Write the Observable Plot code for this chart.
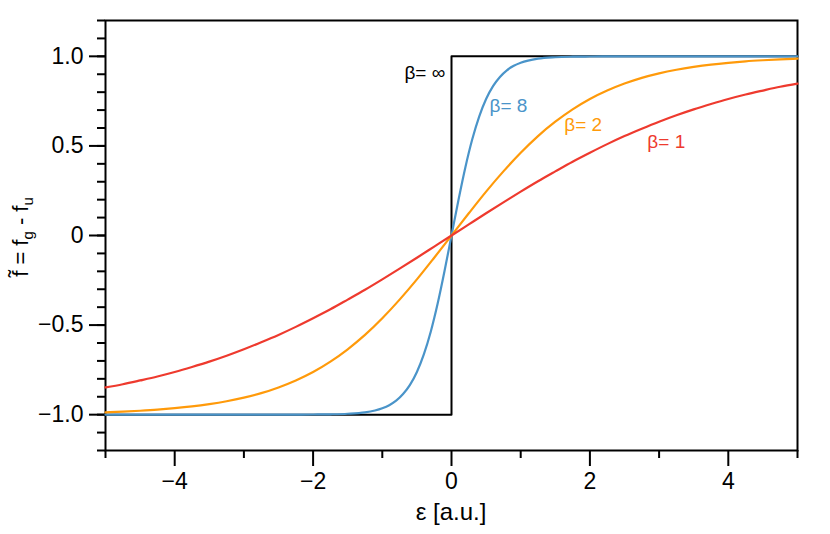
<!DOCTYPE html>
<html>
<head>
<meta charset="utf-8">
<script src="https://cdn.jsdelivr.net/npm/d3@7"></script>
<script src="https://cdn.jsdelivr.net/npm/@observablehq/plot@0.6"></script>
<style>
  html, body { margin: 0; padding: 0; background: #fff; }
  #chart svg { display: block; }
  #chart svg text { font-family: "Liberation Sans", Arial, Helvetica, sans-serif !important; }
  #chart svg [aria-label$="tick label"] { font-size: 23px !important; }
  #chart svg .axis-title { font-size: 24px; }
  #chart svg .curve-label { font-size: 19px !important; }
</style>
</head>
<body>
<div id="chart"></div>
<script>
// ---- data ----
const xGrid = [-5,-4.75,-4.5,-4.25,-4,-3.75,-3.5,-3.25,-3,-2.75,-2.5,-2.25,-2,-1.75,-1.5,-1.25,-1,-0.75,-0.5,-0.25,0,
               0.25,0.5,0.75,1,1.25,1.5,1.75,2,2.25,2.5,2.75,3,3.25,3.5,3.75,4,4.25,4.5,4.75,5];
const beta1 = [-0.848,-0.830,-0.809,-0.787,-0.762,-0.734,-0.704,-0.671,-0.635,-0.596,-0.555,-0.510,-0.462,-0.412,-0.358,-0.303,-0.245,-0.185,-0.124,-0.062,0,
               0.062,0.124,0.185,0.245,0.303,0.358,0.412,0.462,0.510,0.555,0.596,0.635,0.671,0.704,0.734,0.762,0.787,0.809,0.830,0.848];
const beta2 = [-0.987,-0.983,-0.978,-0.972,-0.964,-0.954,-0.941,-0.925,-0.905,-0.880,-0.848,-0.809,-0.762,-0.704,-0.635,-0.555,-0.462,-0.358,-0.245,-0.124,0,
               0.124,0.245,0.358,0.462,0.555,0.635,0.704,0.762,0.809,0.848,0.880,0.905,0.925,0.941,0.954,0.964,0.972,0.978,0.983,0.987];
const x8 = [-5,-4,-3,-2.5,-2,-1.75,-1.5,-1.25,-1,-0.9,-0.8,-0.7,-0.6,-0.5,-0.4,-0.3,-0.2,-0.1,0,
            0.1,0.2,0.3,0.4,0.5,0.6,0.7,0.8,0.9,1,1.25,1.5,1.75,2,2.5,3,4,5];
const beta8 = [-1,-1,-1,-1,-0.999,-0.998,-0.995,-0.987,-0.964,-0.947,-0.922,-0.885,-0.834,-0.762,-0.664,-0.537,-0.380,-0.197,0,
               0.197,0.380,0.537,0.664,0.762,0.834,0.885,0.922,0.947,0.964,0.987,0.995,0.998,0.999,1,1,1,1];
const xStep = [-5,0,0,5];
const betaInf = [-1,-1,1,1];

const labelText = ["β= ∞","β= 8","β= 2","β= 1"];
const labelX = [-0.09,0.55,1.63,2.83];
const labelY = [0.905,0.725,0.615,0.52];
const labelAnchor = ["end","start","start","start"];
const colors = ["#000000","#4a94c9","#ff9a0a","#ee3a2e"];

const yMajor = [-1,-0.5,0,0.5,1];
const yMinor = d3.range(-12,13).map(d => d/10);
const xMajor = [-4,-2,0,2,4];
const xMinor = [-5,-3,-1,1,3,5];

// ---- build tables ----
const toRows = (xs, ys) => xs.map((x,i) => ({x, y: ys[i]}));
const labels = labelText.map((t,i) => ({t, x: labelX[i], y: labelY[i], a: labelAnchor[i], c: colors[i]}));
const fmtY = d => d === 0 ? "0" : d3.format(".1f")(d);
const none = () => "";

const chart = Plot.plot({
  width: 830,
  height: 534,
  marginLeft: 105,
  marginRight: 33,
  marginTop: 20,
  marginBottom: 84,
  style: {fontSize: "23px", color: "#000", background: "#fff"},
  x: {domain: [-5,5], label: null},
  y: {domain: [-1.2,1.2], label: null},
  marks: [
    Plot.axisY({ticks: yMinor, tickSize: 8, tickFormat: none, strokeWidth: 2, stroke: "#000"}),
    Plot.axisY({ticks: yMajor, tickSize: 16, tickPadding: 6, tickFormat: fmtY, strokeWidth: 2, stroke: "#000", fill: "#000"}),
    Plot.axisX({ticks: xMinor, tickSize: 8, tickFormat: none, strokeWidth: 2, stroke: "#000"}),
    Plot.axisX({ticks: xMajor, tickSize: 16, tickPadding: 6, tickFormat: d => d3.format("d")(d), strokeWidth: 2, stroke: "#000", fill: "#000"}),
    Plot.frame({stroke: "#000", strokeWidth: 2}),
    Plot.line(toRows(xStep, betaInf), {x: "x", y: "y", stroke: colors[0], strokeWidth: 2}),
    Plot.line(toRows(x8, beta8), {x: "x", y: "y", stroke: colors[1], strokeWidth: 2.2, curve: "monotone-x"}),
    Plot.line(toRows(xGrid, beta2), {x: "x", y: "y", stroke: colors[2], strokeWidth: 2.2, curve: "monotone-x"}),
    Plot.line(toRows(xGrid, beta1), {x: "x", y: "y", stroke: colors[3], strokeWidth: 2.2, curve: "monotone-x"}),
    Plot.text(labels.filter(d => d.a === "end"), {x: "x", y: "y", text: "t", fill: "c", textAnchor: "end", className: "curve-label"}),
    Plot.text(labels.filter(d => d.a === "start"), {x: "x", y: "y", text: "t", fill: "c", textAnchor: "start", className: "curve-label"})
  ]
});

document.getElementById("chart").appendChild(chart);

// axis titles with subscripts
const svg = d3.select(chart);
const yl = svg.append("text")
  .attr("transform", "translate(28,237) rotate(-90)")
  .attr("text-anchor", "middle")
  .style("font-size", "22px")
  .attr("fill", "#000");
yl.append("tspan").text("f\u0303 = f");
yl.append("tspan").style("font-size", "15px").attr("dy", 5).text("g");
yl.append("tspan").attr("dy", -5).text(" - f");
yl.append("tspan").style("font-size", "15px").attr("dy", 5).text("u");

svg.append("text")
  .attr("class", "axis-title")
  .attr("x", 451).attr("y", 520)
  .attr("text-anchor", "middle")
  .attr("fill", "#000")
  .text("ε [a.u.]");
</script>
</body>
</html>
